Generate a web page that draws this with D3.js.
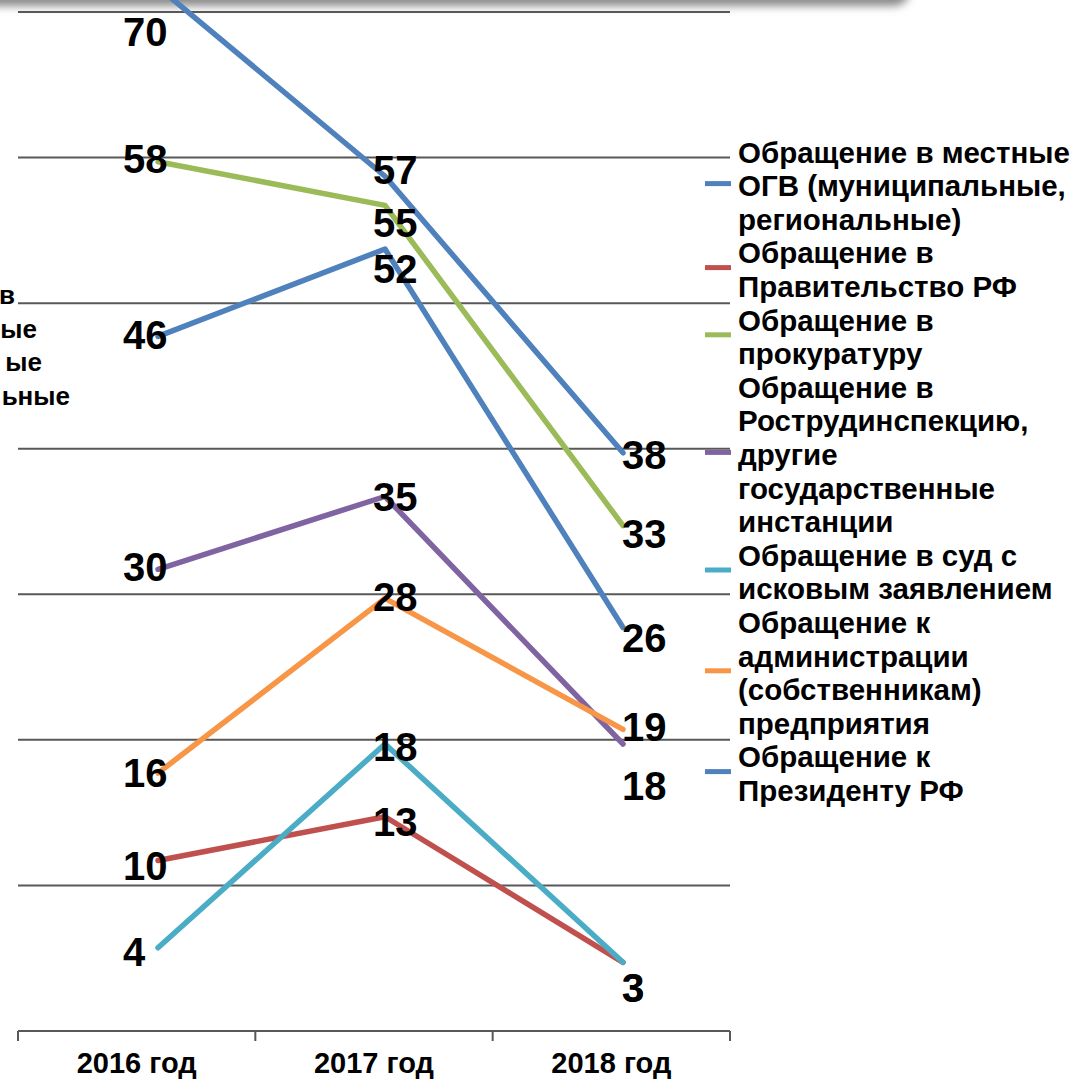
<!DOCTYPE html>
<html>
<head>
<meta charset="utf-8">
<script src="https://cdn.jsdelivr.net/npm/d3@7"></script>
<style>
  body { margin: 0; background: #ffffff; }
  svg { display: block; }
  text { font-family: "Liberation Sans", Arial, sans-serif; font-weight: bold; fill: #000; }
</style>
</head>
<body>
<svg id="chart" width="1075" height="1081"></svg>
<script>
// ---------- DATA ----------
const years = ["2016 год", "2017 год", "2018 год"];

const seriesNames = [
  "Обращение в местные ОГВ (муниципальные, региональные)",
  "Обращение в Правительство РФ",
  "Обращение в прокуратуру",
  "Обращение в Рострудинспекцию, другие государственные инстанции",
  "Обращение в суд с исковым заявлением",
  "Обращение к администрации (собственникам) предприятия",
  "Обращение к Президенту РФ"
];

const valuesLocalOGV   = [70, 57, 38];
const valuesGovernment = [10, 13, 3];
const valuesProsecutor = [58, 55, 33];
const valuesLabourInsp = [30, 35, 18];
const valuesCourt      = [4, 18, 3];
const valuesEmployer   = [16, 28, 19];
const valuesPresident  = [46, 52, 26];

const legendLines = [
  ["Обращение в местные", "ОГВ (муниципальные,", "региональные)"],
  ["Обращение в", "Правительство РФ"],
  ["Обращение в", "прокуратуру"],
  ["Обращение в", "Рострудинспекцию,", "другие", "государственные", "инстанции"],
  ["Обращение в суд с", "исковым заявлением"],
  ["Обращение к", "администрации", "(собственникам)", "предприятия"],
  ["Обращение к", "Президенту РФ"]
];

// clipped text fragments at the left edge
const leftFragments = ["в", "ые", "ые", "ьные"];

const gridTicks = [10, 20, 30, 40, 50, 60, 70];

// ---------- STYLE / LAYOUT ----------
const colors = ["#4F81BD", "#C0504D", "#9BBB59", "#8064A2", "#4BACC6", "#F79646", "#4F81BD"];
// label nudges (px, vertical, from point to label centre) [series][year]
const labelNudge = [
  [45, -6, 2],
  [6, 5, 26],
  [-3, 18, 8],
  [-2, 0, 42],
  [4, 3, 26],
  [0, -1, -2],
  [-1, 20, 10]
];
const labelDx = [-35, -12, -1];
const fragmentRight = [15, 37, 42, 70];

const allValues = [valuesLocalOGV, valuesGovernment, valuesProsecutor, valuesLabourInsp,
                   valuesCourt, valuesEmployer, valuesPresident];
const series = seriesNames.map((name, i) => ({
  name, values: allValues[i], color: colors[i], legend: legendLines[i], idx: i
}));

const svg = d3.select("#chart");

// scales
const xBand = d3.scaleBand().domain(years).range([18, 730]).padding(0);
const x = d3.scaleLinear().domain([0, 1, 2]).range([158, 385, 623]);
const yGrid = d3.scaleLinear().domain([0, 70]).range([1031, 12]);
const y = d3.scaleLinear().domain([0, 70]).range([1006, -13]);

// top shadow
const defs = svg.append("defs");
const blur = defs.append("filter").attr("id", "blur").attr("x", "-10%").attr("y", "-100%")
  .attr("width", "120%").attr("height", "300%");
blur.append("feGaussianBlur").attr("stdDeviation", 4);
svg.append("rect")
  .attr("x", -30).attr("y", -40).attr("width", 940).attr("height", 46).attr("rx", 16)
  .attr("fill", "#8a8a8a").attr("filter", "url(#blur)");

// gridlines
svg.append("g").selectAll("line").data(gridTicks).join("line")
  .attr("x1", 18).attr("x2", 730)
  .attr("y1", d => yGrid(d)).attr("y2", d => yGrid(d))
  .attr("stroke", "#585858").attr("stroke-width", 2);

// x axis
const axisG = svg.append("g").attr("transform", `translate(0,${yGrid(0)})`);
axisG.append("line").attr("x1", 18).attr("x2", 730).attr("y1", 0).attr("y2", 0)
  .attr("stroke", "#585858").attr("stroke-width", 2);
const tickPos = [0, 1, 2, 3].map(i => 18 + i * xBand.bandwidth());
axisG.selectAll("line.tick").data(tickPos).join("line").attr("class", "tick")
  .attr("x1", d => d).attr("x2", d => d).attr("y1", 0).attr("y2", 10)
  .attr("stroke", "#585858").attr("stroke-width", 2);
axisG.selectAll("text.lab").data(years).join("text").attr("class", "lab")
  .attr("x", d => xBand(d) + xBand.bandwidth() / 2)
  .attr("y", 42)
  .attr("text-anchor", "middle")
  .attr("font-size", 29)
  .text(d => d);

// lines
const line = d3.line().x((d, i) => x(i)).y(d => y(d));
svg.append("g").selectAll("path").data(series).join("path")
  .attr("d", d => line(d.values))
  .attr("fill", "none")
  .attr("stroke", d => d.color)
  .attr("stroke-width", 5.5)
  .attr("stroke-linejoin", "round")
  .attr("stroke-linecap", "round");

// data labels
const labels = [];
series.forEach(s => s.values.forEach((v, i) => {
  labels.push({ v, i, cy: y(v) + labelNudge[s.idx][i] });
}));
svg.append("g").selectAll("text").data(labels).join("text")
  .attr("x", d => x(d.i) + labelDx[d.i])
  .attr("y", d => d.cy + 14)
  .attr("font-size", 40)
  .text(d => d.v);

// legend
const legendX = 738, lineH = 33.6, firstCenter = 152;
let lineIdx = 0;
const legendG = svg.append("g");
series.forEach(s => {
  const start = lineIdx;
  const n = s.legend.length;
  s.legend.forEach((t, k) => {
    legendG.append("text")
      .attr("x", legendX)
      .attr("y", firstCenter + (start + k) * lineH + 10.5)
      .attr("font-size", 29.5)
      .text(t);
  });
  const cy = firstCenter + (start + (n - 1) / 2) * lineH - 2;
  legendG.append("line")
    .attr("x1", 705).attr("x2", 731).attr("y1", cy).attr("y2", cy)
    .attr("stroke", s.color).attr("stroke-width", 5);
  lineIdx += n;
});

// left clipped fragments
svg.append("g").selectAll("text").data(leftFragments).join("text")
  .attr("x", (d, i) => fragmentRight[i])
  .attr("y", (d, i) => 304 + i * lineH)
  .attr("text-anchor", "end")
  .attr("font-size", 26)
  .text(d => d);
</script>
</body>
</html>
